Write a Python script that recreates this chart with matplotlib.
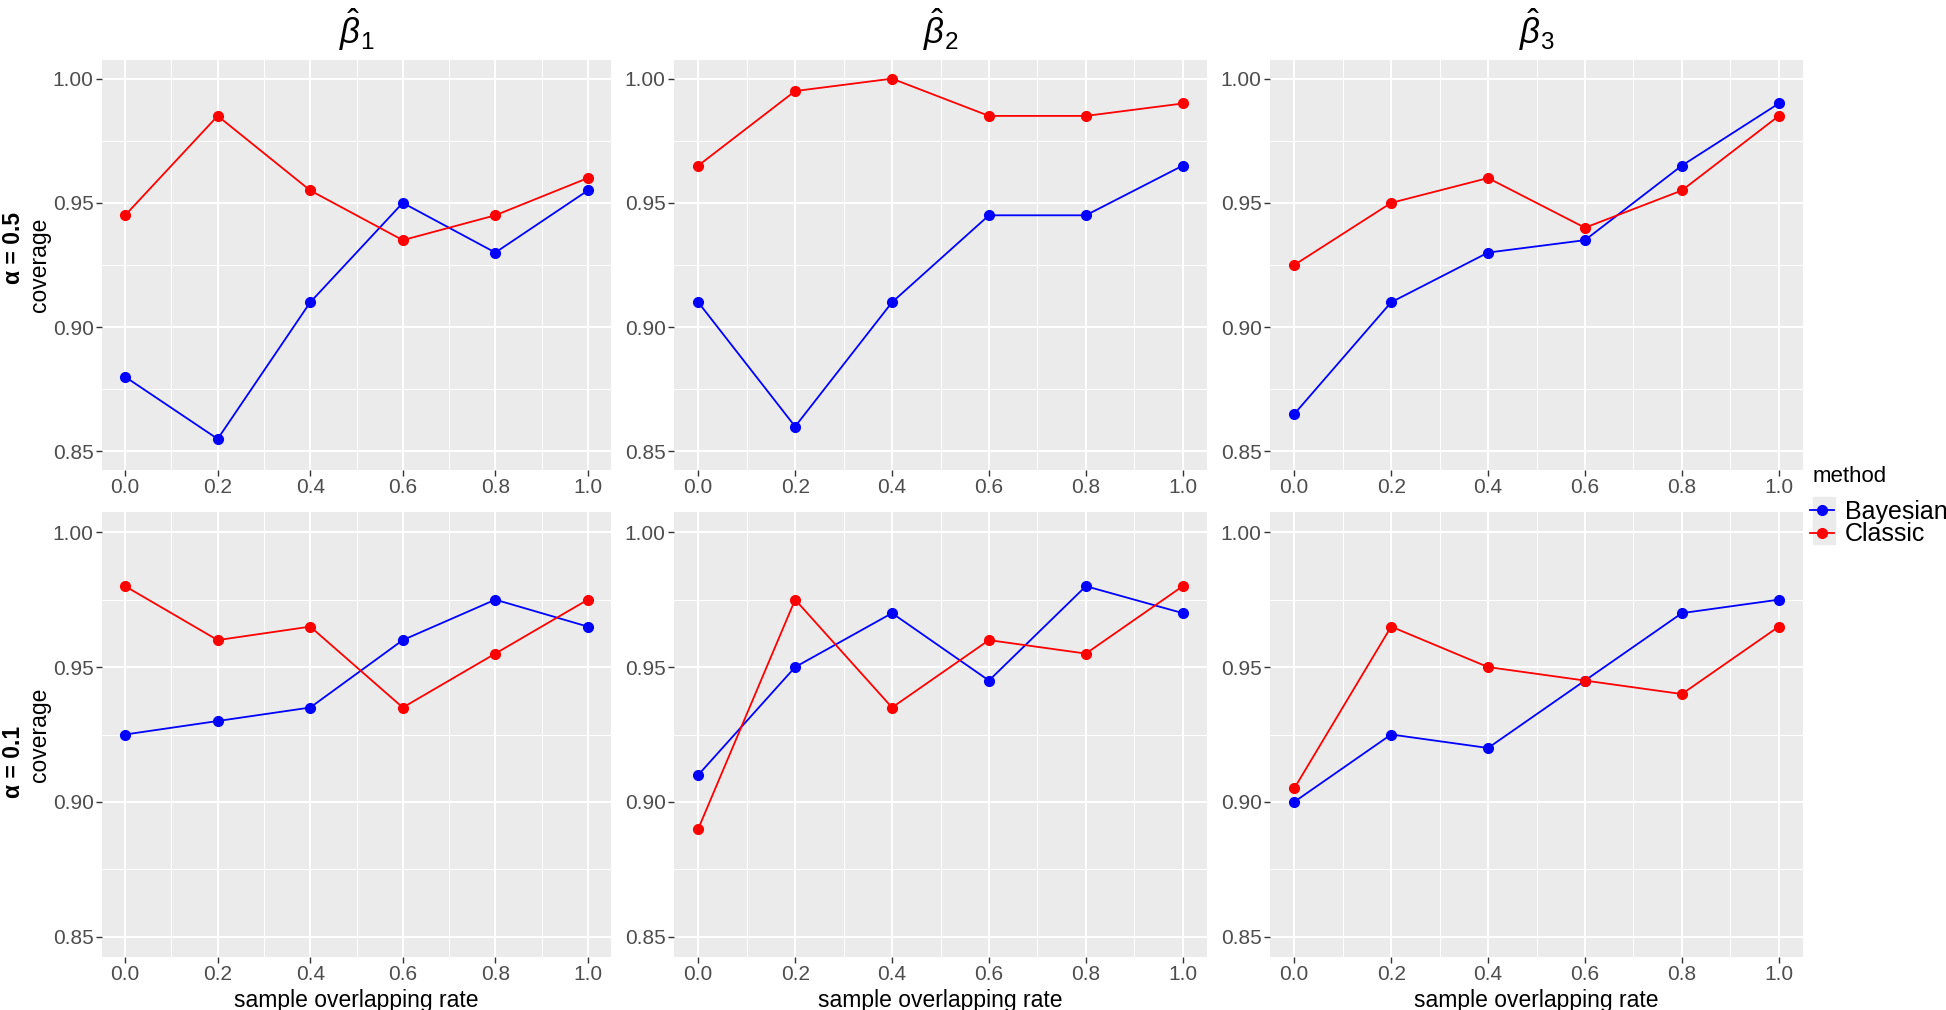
"""Coverage of beta estimates vs sample overlapping rate, Bayesian vs Classic."""

import matplotlib

matplotlib.use("Agg")
import matplotlib.pyplot as plt
from matplotlib.lines import Line2D
from matplotlib.patches import Rectangle

plt.rcParams["font.family"] = ["Liberation Sans", "DejaVu Sans"]
plt.rcParams["mathtext.fontset"] = "custom"
plt.rcParams["mathtext.rm"] = "Liberation Sans"
plt.rcParams["mathtext.it"] = "Liberation Sans:italic"

overlap_rate = [0.0, 0.2, 0.4, 0.6, 0.8, 1.0]
methods = ["Bayesian", "Classic"]
coefficients = [r"$\hat{\beta}_1$", r"$\hat{\beta}_2$", r"$\hat{\beta}_3$"]
alpha_labels = ["α = 0.5", "α = 0.1"]

# alpha = 0.5
bayes_a05_b1 = [0.880, 0.855, 0.910, 0.950, 0.930, 0.955]
classic_a05_b1 = [0.945, 0.985, 0.955, 0.935, 0.945, 0.960]
bayes_a05_b2 = [0.910, 0.860, 0.910, 0.945, 0.945, 0.965]
classic_a05_b2 = [0.965, 0.995, 1.000, 0.985, 0.985, 0.990]
bayes_a05_b3 = [0.865, 0.910, 0.930, 0.935, 0.965, 0.990]
classic_a05_b3 = [0.925, 0.950, 0.960, 0.940, 0.955, 0.985]

# alpha = 0.1
bayes_a01_b1 = [0.925, 0.930, 0.935, 0.960, 0.975, 0.965]
classic_a01_b1 = [0.980, 0.960, 0.965, 0.935, 0.955, 0.975]
bayes_a01_b2 = [0.910, 0.950, 0.970, 0.945, 0.980, 0.970]
classic_a01_b2 = [0.890, 0.975, 0.935, 0.960, 0.955, 0.980]
bayes_a01_b3 = [0.900, 0.925, 0.920, 0.945, 0.970, 0.975]
classic_a01_b3 = [0.905, 0.965, 0.950, 0.945, 0.940, 0.965]

y_ticks = [0.85, 0.90, 0.95, 1.00]
x_ticks = [0.0, 0.2, 0.4, 0.6, 0.8, 1.0]

panels = [
    [(bayes_a05_b1, classic_a05_b1), (bayes_a05_b2, classic_a05_b2), (bayes_a05_b3, classic_a05_b3)],
    [(bayes_a01_b1, classic_a01_b1), (bayes_a01_b2, classic_a01_b2), (bayes_a01_b3, classic_a01_b3)],
]
colors = {"Bayesian": "#0000FF", "Classic": "#FF0000"}

W, H = 1946, 1010
col_px = [(102, 611), (674, 1207), (1270, 1803)]
row_px = [(60, 470), (512, 957)]


def box(left, right, top, bottom):
    return [left / W, 1 - bottom / H, (right - left) / W, (bottom - top) / H]


fig = plt.figure(figsize=(W / 100, H / 100), dpi=100)

for r, (top, bottom) in enumerate(row_px):
    for c, (left, right) in enumerate(col_px):
        ax = fig.add_axes(box(left, right, top, bottom))
        ax.set_facecolor("#EBEBEB")
        for spine in ax.spines.values():
            spine.set_visible(False)
        for method, values in zip(methods, panels[r][c]):
            ax.plot(overlap_rate, values, color=colors[method], lw=1.3,
                    marker="o", ms=7, label=method, zorder=3)
        ax.set_xlim(-0.05, 1.05)
        ax.set_ylim(0.8425, 1.0075)
        ax.set_xticks(x_ticks)
        ax.set_xticklabels([f"{v:.1f}" for v in x_ticks])
        ax.set_yticks(y_ticks)
        ax.set_yticklabels([f"{v:.2f}" for v in y_ticks])
        ax.set_xticks([0.1, 0.3, 0.5, 0.7, 0.9], minor=True)
        ax.set_yticks([0.875, 0.925, 0.975], minor=True)
        ax.grid(which="major", color="white", lw=1.5)
        ax.grid(which="minor", color="white", lw=0.7)
        ax.set_axisbelow(True)
        ax.tick_params(which="major", length=4, width=1, color="#333333",
                       labelsize=15, labelcolor="#4D4D4D", pad=2)
        ax.tick_params(which="minor", length=0)
        if r == 1:
            ax.set_xlabel("sample overlapping rate", fontsize=16.5, labelpad=3)

for c, (left, right) in enumerate(col_px):
    fig.text((left + right) / 2 / W, 1 - 30 / H, coefficients[c],
             fontsize=25, ha="center", va="center")

# row labels
fig.text(13 / W, 1 - 248 / H, alpha_labels[0], rotation=90, fontsize=16.5,
         fontweight="bold", ha="center", va="center")
fig.text(40 / W, 1 - 265 / H, "coverage", rotation=90, fontsize=16.5,
         ha="center", va="center")
fig.text(13 / W, 1 - 762 / H, alpha_labels[1], rotation=90, fontsize=16.5,
         fontweight="bold", ha="center", va="center")
fig.text(40 / W, 1 - 735 / H, "coverage", rotation=90, fontsize=16.5,
         ha="center", va="center")

# legend
fig.text(1813 / W, 1 - 477 / H, "method", fontsize=16, ha="left", va="center")
fig.patches.append(Rectangle((1813 / W, 1 - 544 / H), 22 / W, 47 / H,
                             transform=fig.transFigure, color="#EBEBEB", zorder=0))
handles = [Line2D([], [], color=colors[m], lw=1.3, marker="o", ms=7) for m in methods]
leg = fig.legend(handles, methods, loc="center left",
                 bbox_to_anchor=(1810 / W, 1 - 523 / H), frameon=False,
                 fontsize=18, handlelength=0.95, handletextpad=0.45,
                 labelspacing=-0.05, borderaxespad=0, borderpad=0)

fig.savefig("out.png", dpi=100)
